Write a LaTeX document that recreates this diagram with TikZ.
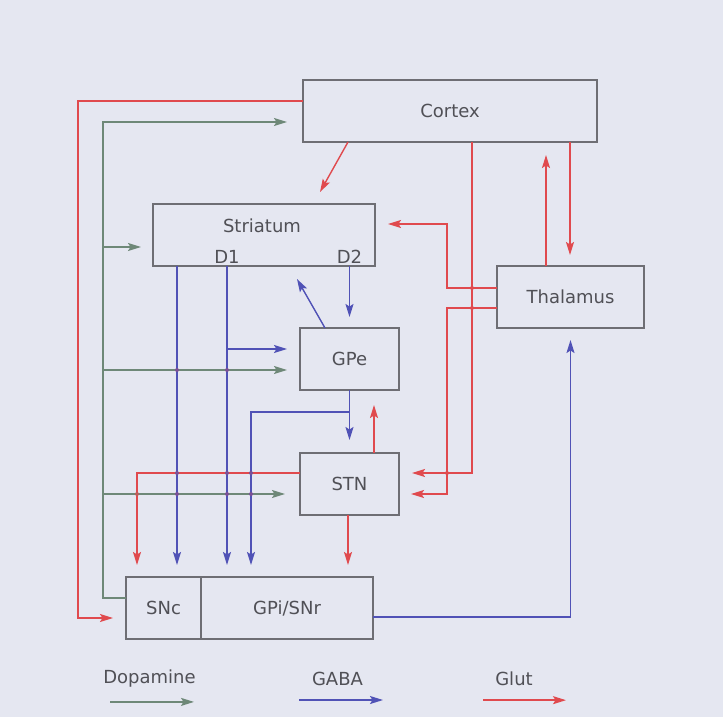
\documentclass[tikz,border=0pt]{standalone}
\usepackage{fontspec}
\setmainfont{DejaVu Sans}
\usetikzlibrary{arrows.meta,positioning}
\definecolor{paper}{HTML}{E5E7F1}
\definecolor{edge}{HTML}{6E6E74}
\definecolor{ink}{HTML}{505056}
\definecolor{glut}{HTML}{E04A4E}
\definecolor{gaba}{HTML}{5052B6}
\definecolor{dopa}{HTML}{6E8878}
\tikzset{area/.style={draw=edge,line width=1.6pt,minimum height=62pt,inner sep=0pt,outer sep=0pt,font=\fontsize{18}{21}\selectfont,text=ink},
lbl/.style={font=\fontsize{18}{21}\selectfont,text=ink,inner sep=0pt},
tip/.style={-{Stealth[length=13pt,width=8pt,inset=2.5pt]}},
glu/.style={tip,draw=glut,line width=1.4pt},
gab/.style={tip,draw=gaba,line width=1.4pt},
dop/.style={tip,draw=dopa,line width=1.4pt},
jn/.style={circle,inner sep=0pt,minimum size=4pt}}

\begin{document}
\begin{tikzpicture}[x=1pt,y=-1pt]
\fill[paper] (0,0) rectangle (723,717);
\useasboundingbox (0,0) rectangle (723,717);
% areas
\node[area,minimum width=294pt] (cortex) at (450,111) {Cortex};
\node[area,minimum width=222pt] (striatum) at (264,235) {};
\node[lbl] (strlbl) at (262,225.5) {Striatum};
\node[lbl] (d1) at (227,256.5) {D1};
\node[lbl] (d2) at (349.5,256.5) {D2};
\node[area,minimum width=147pt] (thalamus) at (570.5,297) {Thalamus};
\node[area,minimum width=99pt] (gpe) at (349.5,359) {GPe};
\node[area,minimum width=99pt] (stn) at (349.5,484) {STN};
\node[area,minimum width=75pt] (snc) at (163.5,608) {SNc};
\node[area,minimum width=172pt] (gpi) at (287,608) {GPi/SNr};
% helper points
\coordinate (spine) at (103,598);
\coordinate (thl) at (447,288);
\coordinate (strIn) at ([xshift=-87pt]striatum.south);
\coordinate (gpeIn) at ([xshift=-13pt,yshift=10pt]gpe.west);
\coordinate (gpeOut) at ([yshift=-22pt]gpe.south);
\coordinate (gpiIn) at ([xshift=-36pt,yshift=12pt]gpi.north);
\coordinate (stnHi) at ([yshift=11pt]stn.west);
\coordinate (stnLo) at ([xshift=-15pt,yshift=-10pt]stn.west);
\coordinate (gpeDa) at ([xshift=-13pt,yshift=-11pt]gpe.west);
% glutamate
\draw[glu] ([yshift=10pt]cortex.west) -- (78,101) |- ([xshift=-13pt,yshift=-10pt]snc.west);
\draw[glu] ([xshift=-102pt]cortex.south) -- ([xshift=56pt,yshift=12pt]striatum.north);
\draw[glu] ([xshift=22pt]cortex.south) |- ([xshift=13pt,yshift=11pt]stn.east);
\draw[glu] ([yshift=9pt]thalamus.west) -- (thl) |- ([xshift=13pt,yshift=11pt]striatum.east);
\draw[glu] ([yshift=-11pt]thalamus.west) -| (thl |- stn.east) |- ([xshift=12pt,yshift=-10pt]stn.east);
\draw[glu] ([xshift=-24.5pt]thalamus.north) -- ([xshift=96pt,yshift=-13pt]cortex.south);
\draw[glu] ([xshift=120pt]cortex.south) -- ([xshift=-0.5pt,yshift=11pt]thalamus.north);
\draw[glu] ([xshift=24.5pt]stn.north) -- ([xshift=24.5pt,yshift=-15pt]gpe.south);
\draw[glu] ([xshift=-1.5pt]stn.south) -- ([xshift=61pt,yshift=12pt]gpi.north);
\draw[glu] (stnHi) -| ([xshift=-26.5pt,yshift=12pt]snc.north);
% GABA
\draw[gab] (strIn) -- ([xshift=13.5pt,yshift=12pt]snc.north);
\draw[gab] (d1 |- striatum.south) -- ([xshift=-60pt,yshift=12pt]gpi.north);
\draw[gab] (gpeIn -| d1) -- (gpeIn);
\draw[gab] (d2 |- striatum.south) -- ([yshift=11pt]gpe.north);
\draw[gab] ([xshift=-24.5pt]gpe.north) -- ([xshift=33pt,yshift=-13pt]striatum.south);
\draw[gab] (gpe.south) -- ([yshift=13pt]stn.north);
\draw[gab] (gpeOut) -| (gpiIn);
\draw[gab] ([yshift=-9pt]gpi.east) -| ([yshift=-12pt]thalamus.south);
% dopamine
\draw[dop] ([yshift=10pt]snc.west) -- (spine) -- (103,122) -- ([xshift=-16pt,yshift=-11pt]cortex.west);
\draw[dop] (spine |- striatum.west) ++(0,12) -- ([xshift=-12pt,yshift=-12pt]striatum.west);
\draw[dop] (spine |- gpeDa) -- (gpeDa);
\draw[dop] (spine |- stnLo) -- (stnLo);
% junctions
\foreach \p in {(472,288),(472,308),(447,473)}
  \node[jn,fill=glut] at \p {};
\foreach \p in {(strIn |- stnHi),(d1 |- stnHi),(gpiIn |- stnHi),(strIn |- stnLo),(d1 |- stnLo),(gpiIn |- stnLo),(strIn |- gpeDa),(d1 |- gpeDa)}
  \node[jn,fill=gaba!70!glut] at \p {};
\node[jn,fill=glut!70!dopa] at (137,494) {};
% key
\node[lbl] (dopkey) at (149.5,679) {Dopamine};
\node[lbl] (gabkey) at (337.5,679) {GABA};
\node[lbl] (glukey) at (514,679) {Glut};
\draw[dop] ([xshift=-39.5pt,yshift=-14pt]dopkey.south) -- ++(84,0);
\draw[gab] ([xshift=-38.5pt,yshift=-14pt]gabkey.south) -- ++(84,0);
\draw[glu] ([xshift=-31pt,yshift=-14pt]glukey.south) -- ++(83,0);
\end{tikzpicture}
\end{document}
